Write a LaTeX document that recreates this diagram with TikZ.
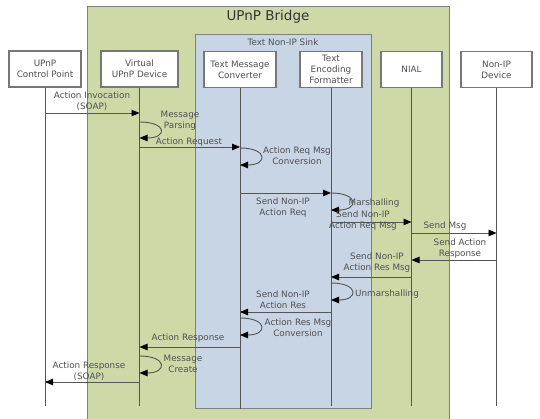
\documentclass[tikz,border=0pt]{standalone}
\usepackage{fontspec}
\setmainfont{DejaVu Sans}
\usetikzlibrary{arrows.meta,positioning}
\definecolor{bridgegreen}{RGB}{205,218,168}
\definecolor{sinkblue}{RGB}{200,213,228}
\definecolor{linegray}{RGB}{85,85,85}
\definecolor{textgray}{RGB}{80,80,80}
\tikzset{
  actorbox/.style={draw=linegray!80, fill=white, line width=1.2pt, align=center, inner sep=0pt, minimum height=36pt, font=\fontsize{8.8}{11}\selectfont, text=textgray},
  groupbox/.style={draw=gray, line width=1.2pt, inner sep=0pt, anchor=north west},
  lifeline/.style={draw=linegray, line width=0.9pt},
  msgarrow/.style={-{Triangle[length=8pt,width=6.5pt,color=black]}, draw=linegray, line width=0.9pt},
  msglabel/.style={font=\fontsize{8.8}{11}\selectfont, align=center, text=textgray, inner sep=0pt}
}
\begin{document}
\begin{tikzpicture}[x=1pt,y=-1pt]
  \clip (0,0) rectangle (540,419);
  \node[groupbox, fill=bridgegreen, minimum width=362pt, minimum height=430pt] (bridge) at (87,6) {};
  \node[font=\fontsize{13.5}{15}\selectfont, text=black!80] (bridgetitle) at (268,17) {UPnP Bridge};
  \node[groupbox, fill=sinkblue, minimum width=176pt, minimum height=374pt] (sink) at (195,34) {};
  \node[msglabel] (sinktitle) at (283,42) {Text Non-IP Sink};

  \node[actorbox, minimum width=72pt] (cp) at (45,69) {UPnP\\Control Point};
  \node[actorbox, minimum width=77pt] (vud) at (139.5,69) {Virtual\\UPnP Device};
  \node[actorbox, minimum width=72pt] (tmc) at (240,69.5) {Text Message\\Converter};
  \node[actorbox, minimum width=62pt] (tef) at (331,69.5) {Text\\Encoding\\Formatter};
  \node[actorbox, minimum width=61pt] (nial) at (411.5,69.5) {NIAL};
  \node[actorbox, minimum width=71pt] (nid) at (496.5,69.5) {Non-IP\\Device};

  \coordinate (lifeend) at (0,406);
  \foreach \a in {cp,vud,tef,nial,nid}
    \draw[lifeline] (\a.south) -- (\a |- lifeend);
  \draw[lifeline] (tmc.south) -- (tmc |- sink.south);

  \draw[msgarrow] (cp |- 0,113) -- (vud |- 0,113);
  \node[msglabel] (invlabel) at (92,101) {Action Invocation\\(SOAP)};
  \draw[msgarrow] (vud |- 0,122) .. controls +(28,0) and +(28,0) .. (vud |- 0,138);
  \node[msglabel] (parselabel) at (180,121) {Message\\Parsing};
  \draw[msgarrow] (vud |- 0,147) -- (tmc |- 0,147);
  \node[msglabel] (reqlabel) at (189,142) {Action Request};
  \draw[msgarrow] (tmc |- 0,148) .. controls +(28,0) and +(28,0) .. (tmc |- 0,165);
  \node[msglabel] (reqconvlabel) at (297,156) {Action Req Msg\\Conversion};
  \draw[msgarrow] (tmc |- 0,193) -- (tef |- 0,193);
  \node[msglabel] (sendreqlabel) at (283,208) {Send Non-IP\\Action Req};
  \draw[msgarrow] (tef |- 0,193) .. controls +(28,0) and +(28,0) .. (tef |- 0,210);
  \node[msglabel] (marshlabel) at (374,203) {Marshalling};
  \draw[msgarrow] (tef |- 0,222) -- (nial |- 0,222);
  \node[msglabel] (reqmsglabel) at (363,221) {Send Non-IP\\Action Req Msg};
  \draw[msgarrow] (nial |- 0,233) -- (nid |- 0,233);
  \node[msglabel] (sendmsglabel) at (445,226) {Send Msg};
  \draw[msgarrow] (nid |- 0,260) -- (nial |- 0,260);
  \node[msglabel] (resplabel) at (460,249) {Send Action\\Response};
  \draw[msgarrow] (nial |- 0,277) -- (tef |- 0,277);
  \node[msglabel] (resmsglabel) at (377,263) {Send Non-IP\\Action Res Msg};
  \draw[msgarrow] (tef |- 0,283) .. controls +(28,0) and +(28,0) .. (tef |- 0,300);
  \node[msglabel] (unmarshlabel) at (387,294) {Unmarshalling};
  \draw[msgarrow] (tef |- 0,312) -- (tmc |- 0,312);
  \node[msglabel] (sendreslabel) at (283,300) {Send Non-IP\\Action Res};
  \draw[msgarrow] (tmc |- 0,318) .. controls +(28,0) and +(28,0) .. (tmc |- 0,335);
  \node[msglabel] (resconvlabel) at (298,328) {Action Res Msg\\Conversion};
  \draw[msgarrow] (tmc |- 0,347) -- (vud |- 0,347);
  \node[msglabel] (actresplabel) at (188,338) {Action Response};
  \draw[msgarrow] (vud |- 0,356) .. controls +(28,0) and +(28,0) .. (vud |- 0,373);
  \node[msglabel] (createlabel) at (183,364) {Message\\Create};
  \draw[msgarrow] (vud |- 0,382) -- (cp |- 0,382);
  \node[msglabel] (soaplabel) at (89,371) {Action Response\\(SOAP)};
\end{tikzpicture}
\end{document}
